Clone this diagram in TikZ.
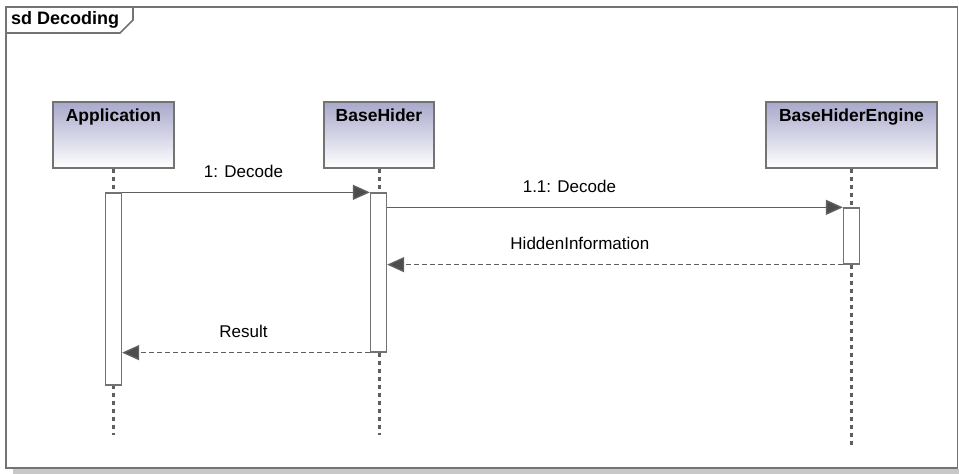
\documentclass[tikz,border=0pt]{standalone}
\usepackage{fontspec}
\setmainfont{Liberation Sans}
\usetikzlibrary{arrows.meta}
\definecolor{framegray}{RGB}{115,115,115}
\definecolor{linegray}{RGB}{95,95,95}
\definecolor{headtop}{RGB}{168,168,204}
\definecolor{shadowgray}{RGB}{200,200,200}
\tikzset{
  frameline/.style={draw=framegray, line width=1.6pt},
  headbox/.style={draw=framegray, line width=1.4pt, top color=headtop, bottom color=white,
                  rectangle, inner sep=0pt},
  headtext/.style={font=\fontsize{17.5}{20}\selectfont\bfseries, anchor=north, inner sep=0pt},
  lifeline/.style={draw=linegray, line width=3pt, dash pattern=on 4pt off 4pt},
  actbar/.style={draw=framegray, line width=1.3pt, fill=white, rectangle, inner sep=0pt,
                 minimum width=16pt},
  msgcall/.style={draw=linegray, line width=1.4pt,
                  -{Triangle[length=17pt,width=15pt,fill=linegray!80!black]}},
  msgreply/.style={msgcall, dash pattern=on 5pt off 3pt},
  msglabel/.style={font=\fontsize{17}{20}\selectfont, yshift=21pt, inner sep=0pt}
}
\begin{document}
\begin{tikzpicture}[x=1pt,y=-1pt]
  \useasboundingbox (0,0) rectangle (959,474);
  % diagram frame with its drop shadow
  \fill[shadowgray] (13,469) rectangle (959,474);
  \draw[frameline] (6,7) rectangle (957.5,468);
  \draw[frameline] (6,33) -- (120,33) -- (133,20) -- (133,7);
  \node[font=\fontsize{18}{20}\selectfont\bfseries, anchor=west, inner sep=0pt] (title) at (11,20) {sd Decoding};

  % lifeline heads
  \node[headbox, minimum width=121pt, minimum height=66pt] (app) at (113.5,135) {};
  \node[headtext] (apptxt) at ([yshift=-7pt]app.north) {Application};
  \node[headbox, minimum width=110pt, minimum height=66pt] (hid) at (379,135) {};
  \node[headtext] (hidtxt) at ([yshift=-7pt]hid.north) {BaseHider};
  \node[headbox, minimum width=171pt, minimum height=66pt] (eng) at (851.5,135) {};
  \node[headtext] (engtxt) at ([yshift=-7pt]eng.north) {BaseHiderEngine};

  % lifeline ends
  \coordinate (append) at (113.5,435);
  \coordinate (hidend) at (379,435);
  \coordinate (engend) at (851.5,445);
  \draw[lifeline] (app.south) -- (append);
  \draw[lifeline] (hid.south) -- (hidend);
  \draw[lifeline] (eng.south) -- (engend);

  % activation bars
  \node[actbar, minimum height=192pt] (appbar) at (113.5,289) {};
  \node[actbar, minimum height=159pt] (hidbar) at (378.5,272.5) {};
  \node[actbar, minimum height=56pt] (engbar) at (851.5,236) {};

  % messages
  \draw[msgcall] (appbar.north east) -- (hidbar.north west)
    node[msglabel, pos=0.49] {1: Decode};
  \draw[msgcall] (hidbar.east |- engbar.north) -- (engbar.north west)
    node[msglabel, pos=0.40] {1.1: Decode};
  \draw[msgreply] (engbar.south west) -- (hidbar.east |- engbar.south)
    node[msglabel, pos=0.577] {HiddenInformation};
  \draw[msgreply] (hidbar.south west) -- (appbar.east |- hidbar.south)
    node[msglabel, pos=0.51] {Result};
\end{tikzpicture}
\end{document}
